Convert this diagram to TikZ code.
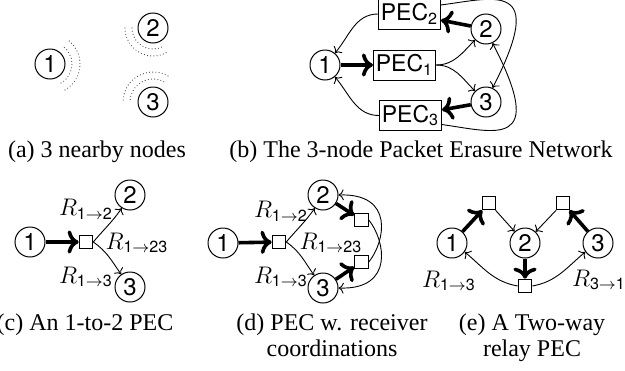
\documentclass[tikz,border=0pt]{standalone}
\usepackage{amsmath}
\usepackage{fontspec}
\setmainfont{Liberation Serif}
\setsansfont{TeX Gyre Heros}
\usetikzlibrary{arrows.meta}

\tikzset{
  nd/.style={circle, draw, line width=0.5pt, minimum size=15pt, inner sep=0pt,
             font=\sffamily\fontsize{12}{14}\selectfont},
  pec/.style={draw, line width=0.5pt, minimum height=15pt, inner xsep=1.2pt, inner ysep=0pt,
              font=\sffamily\fontsize{11.5}{13}\selectfont},
  sq/.style={draw, line width=0.5pt, minimum size=6.8pt, inner sep=0pt},
  flow/.style={-{To}, line width=0.45pt},
  heavy/.style={-{To}, line width=1.8pt},
  wave/.style={line width=0.6pt, dash pattern=on 0pt off 1.6pt, line cap=round, black!70},
  capt/.style={font=\fontsize{12}{14}\selectfont, anchor=base, inner sep=0pt},
  lbl/.style={font=\fontsize{11.5}{13}\selectfont, inner sep=0pt},
}
\newcommand{\rate}[2]{$R_{\mathsf{#1}\to\mathsf{#2}}$}

\begin{document}
\begin{tikzpicture}[x=0.5pt, y=0.5pt]
\useasboundingbox (0,0) rectangle (625,-370);

% (a) three nodes within range of one another
\node[nd] (a1) at (50,-64) {1};
\node[nd] (a2) at (153,-28) {2};
\node[nd] (a3) at (153,-102) {3};
\draw[wave] (a1.center) ++(-60:22) arc[start angle=-60, end angle=55, radius=22];
\draw[wave] (a1.center) ++(-60:30) arc[start angle=-60, end angle=55, radius=30];
\draw[wave] (a2.center) ++(180:21) arc[start angle=180, end angle=298, radius=21];
\draw[wave] (a2.center) ++(180:28) arc[start angle=180, end angle=300, radius=28];
\draw[wave] (a3.center) ++(62:23) arc[start angle=62, end angle=180, radius=23];
\draw[wave] (a3.center) ++(60:30) arc[start angle=60, end angle=180, radius=30];
\node[capt] (capa) at (97,-157) {(a) 3 nearby nodes};

% (b) the 3-node packet erasure network
\node[nd] (b1) at (325,-65) {1};
\node[nd] (b2) at (486,-29) {2};
\node[nd] (b3) at (486,-102) {3};
\node[pec] (p1) at (404.5,-65) {PEC$_{\mathsf{1}}$};
\node[pec] (p2) at (409.5,-14) {PEC$_{\mathsf{2}}$};
\node[pec] (p3) at (410.5,-115.5) {PEC$_{\mathsf{3}}$};
\draw[heavy] (b1) -- (p1);
\draw[heavy] (b2) -- (p2);
\draw[heavy] (b3) -- (p3);
\draw[flow] (p2.west) to[out=180, in=50] (b1.50);
\draw[flow] (p3.west) to[out=180, in=-50] (b1.-50);
\draw[flow] (p1.east) to[out=0, in=225] (b2.225);
\draw[flow] (p1.east) to[out=0, in=135] (b3.135);
\draw[flow] (p2.16) .. controls (495,2) and (548,20) .. (b3.65);
\draw[flow] (p3.-16) .. controls (495,-132) and (548,-150) .. (b2.-65);
\node[capt] (capb) at (421,-157) {(b) The 3-node Packet Erasure Network};

% (c) a 1-to-2 PEC
\node[nd] (c1) at (30,-242) {1};
\node[nd] (c2) at (130,-195) {2};
\node[nd] (c3) at (130,-287) {3};
\node[sq] (cs) at (86,-242) {};
\draw[heavy] (c1) -- (cs);
\draw[flow] (cs.east) to[out=50, in=-125] (c2.-122);
\draw[flow] (cs.east) to[out=-35, in=125] (c3.125);
\node[lbl] (cr12) at (86,-209) {\rate{1}{2}};
\node[lbl] (cr123) at (137,-243) {\rate{1}{23}};
\node[lbl] (cr13) at (86,-277) {\rate{1}{3}};
\node[capt] (capc) at (85,-330) {(c) An 1-to-2 PEC};

% (d) PEC with receiver coordination
\node[nd] (d1) at (223,-243) {1};
\node[nd] (d2) at (323,-195) {2};
\node[nd] (d3) at (323,-288) {3};
\node[sq] (ds) at (279,-242) {};
\node[sq] (dsa) at (361.5,-220) {};
\node[sq] (dsb) at (361.5,-262) {};
\draw[heavy] (d1) -- (ds);
\draw[flow] (ds.east) to[out=50, in=-125] (d2.-122);
\draw[flow] (ds.east) to[out=-35, in=125] (d3.125);
\draw[heavy] (d2) -- (dsa);
\draw[heavy] (d3) -- (dsb);
\draw[flow] (dsa.east) .. controls (385,-240) and (395,-290) .. (d3.east);
\draw[flow] (dsb.east) .. controls (385,-242) and (395,-193) .. (d2.east);
\node[lbl] (dr12) at (281,-211) {\rate{1}{2}};
\node[lbl] (dr123) at (331,-243) {\rate{1}{23}};
\node[lbl] (dr13) at (281,-277) {\rate{1}{3}};
\node[capt] (capd1) at (332,-330) {(d) PEC w. receiver};
\node[capt] (capd2) at (332,-356) {coordinations};

% (e) two-way relay PEC
\node[nd] (e1) at (452,-243) {1};
\node[nd] (e2) at (525,-243) {2};
\node[nd] (e3) at (598,-243) {3};
\node[sq] (esa) at (489,-203) {};
\node[sq] (esb) at (563,-203) {};
\node[sq] (esc) at (525,-286) {};
\draw[heavy] (e1) -- (esa);
\draw[heavy] (e3) -- (esb);
\draw[heavy] (e2) -- (esc);
\draw[flow] (esa) -- (e2);
\draw[flow] (esb) -- (e2);
\draw[flow] (esc.west) to[out=170, in=-40] (e1.-35);
\draw[flow] (esc.east) to[out=10, in=-140] (e3.-145);
\node[lbl] (er13) at (449,-281) {\rate{1}{3}};
\node[lbl] (er31) at (599,-280) {\rate{3}{1}};
\node[capt] (cape1) at (532,-330) {(e) A Two-way};
\node[capt] (cape2) at (532,-356) {relay PEC};
\end{tikzpicture}
\end{document}
